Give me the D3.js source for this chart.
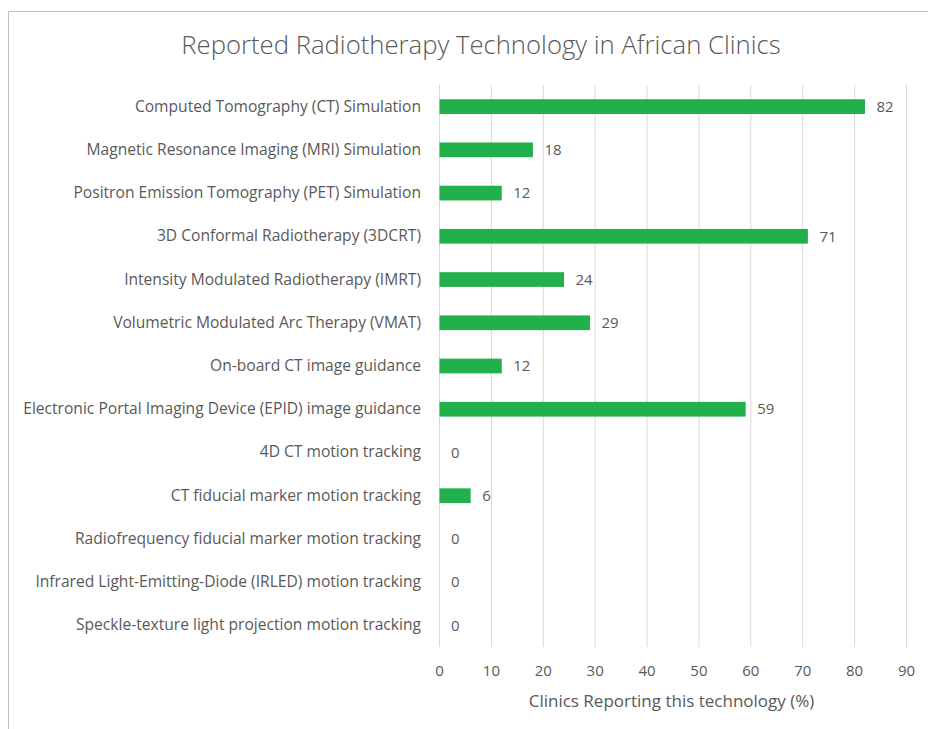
<!DOCTYPE html>
<html>
<head>
<meta charset="utf-8">
<script src="https://cdn.jsdelivr.net/npm/d3@7"></script>
<style>
  body { margin: 0; background: #fff; }
  svg text { font-family: "Open Sans", sans-serif; fill: #595959; }
</style>
</head>
<body>
<div id="chart"></div>
<script>
var categories = [
    'Computed Tomography (CT) Simulation',
    'Magnetic Resonance Imaging (MRI) Simulation',
    'Positron Emission Tomography (PET) Simulation',
    '3D Conformal Radiotherapy (3DCRT)',
    'Intensity Modulated Radiotherapy (IMRT)',
    'Volumetric Modulated Arc Therapy (VMAT)',
    'On-board CT image guidance',
    'Electronic Portal Imaging Device (EPID) image guidance',
    '4D CT motion tracking',
    'CT fiducial marker motion tracking',
    'Radiofrequency fiducial marker motion tracking',
    'Infrared Light-Emitting-Diode (IRLED) motion tracking',
    'Speckle-texture light projection motion tracking'
];
var values = [82, 18, 12, 71, 24, 29, 12, 59, 0, 6, 0, 0, 0];
var xTicks = [0, 10, 20, 30, 40, 50, 60, 70, 80, 90];

var chartTitle = 'Reported Radiotherapy Technology in African Clinics';
var xTitle = 'Clinics Reporting this technology (%)';

var width = 928, height = 729;
var plot = { left: 439, right: 906, top: 85, bottom: 647 };

var svg = d3.select('#chart').append('svg')
    .attr('width', width)
    .attr('height', height);

// chart frame
svg.append('rect')
    .attr('x', 8.5).attr('y', 11.5)
    .attr('width', 940).attr('height', 740)
    .attr('fill', 'none')
    .attr('stroke', '#bfbfbf');

var x = d3.scaleLinear().domain([0, 90]).range([plot.left, plot.right]);
var y = d3.scaleBand().domain(categories)
    .range([plot.top, plot.bottom])
    .paddingInner(0.66).paddingOuter(0.33);

// gridlines
svg.append('g').selectAll('line')
    .data(xTicks).enter().append('line')
    .attr('x1', function(d) { return x(d) + 0.5; })
    .attr('x2', function(d) { return x(d) + 0.5; })
    .attr('y1', plot.top)
    .attr('y2', plot.bottom)
    .attr('stroke', '#d9d9d9');

// x axis tick labels
var xAxis = d3.axisBottom(x).tickValues(xTicks).tickSize(0).tickPadding(0);
var gx = svg.append('g')
    .attr('transform', 'translate(0,' + (plot.bottom + 29) + ')')
    .call(xAxis);
gx.select('.domain').remove();
gx.selectAll('text')
    .attr('dy', 0)
    .style('font-size', '15px')
    .style('font-family', '"Open Sans", sans-serif')
    .attr('fill', '#595959');

// category labels
var yAxis = d3.axisLeft(y).tickSize(0).tickPadding(18);
var gy = svg.append('g')
    .attr('transform', 'translate(' + plot.left + ',0)')
    .call(yAxis);
gy.select('.domain').remove();
gy.selectAll('text')
    .style('font-size', '15.6px')
    .style('font-family', '"Open Sans", sans-serif')
    .attr('fill', '#595959');

// bars
svg.append('g').selectAll('rect')
    .data(values).enter().append('rect')
    .attr('x', x(0) + 0.5)
    .attr('y', function(d, i) { return y(categories[i]); })
    .attr('width', function(d) { return Math.max(0, x(d) - x(0)); })
    .attr('height', y.bandwidth())
    .attr('fill', '#21b04b');

// value labels
svg.append('g').selectAll('text')
    .data(values).enter().append('text')
    .attr('x', function(d) { return x(d) + 12; })
    .attr('y', function(d, i) { return y(categories[i]) + y.bandwidth() / 2; })
    .attr('dy', '0.35em')
    .style('font-size', '15px')
    .text(function(d) { return d; });

// titles
svg.append('text')
    .attr('x', 481).attr('y', 54)
    .attr('text-anchor', 'middle')
    .style('font-size', '25.7px')
    .style('font-weight', 300)
    .text(chartTitle);

svg.append('text')
    .attr('x', x(45) - 1).attr('y', 707)
    .attr('text-anchor', 'middle')
    .style('font-size', '17px')
    .text(xTitle);
</script>
</body>
</html>
